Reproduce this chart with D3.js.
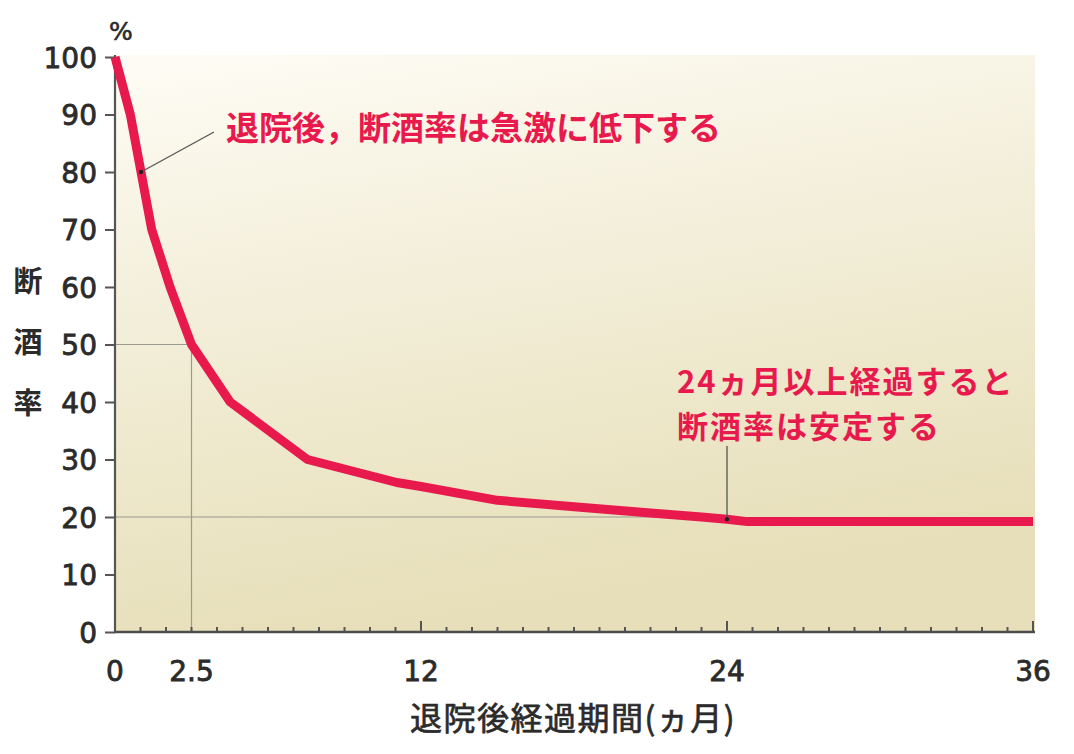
<!DOCTYPE html>
<html>
<head>
<meta charset="utf-8">
<script src="https://cdn.jsdelivr.net/npm/d3@7"></script>
<style>
body { margin: 0; background: #fff; }
</style>
</head>
<body>
<script>
// abstinence rate after discharge
const months = [0, 0.5, 1.2, 1.8, 2.5, 4.1, 7.3, 11, 12, 15, 18, 21, 23, 24, 24.8, 36];
const rates = [100, 90, 70, 60, 50, 40, 30, 26, 25.3, 22.9, 21.8, 20.7, 20, 19.6, 19.2, 19.2];

const xTicks = [0, 2.5, 12, 24, 36];
const xMajor = [12, 24, 36];
const yTicks = [0, 10, 20, 30, 40, 50, 60, 70, 80, 90, 100];

const guideMonths = [2.5, 24];
const guideRates = [50, 20];

const noteMonths = [0.85, 24];
const noteRates = [80, 19.6];
const noteLines = [
    ['退院後，断酒率は急激に低下する'],
    ['24ヵ月以上経過すると', '断酒率は安定する']
];

const yTitle = ['断', '酒', '率'];
const xTitle = '退院後経過期間(ヵ月)';

const width = 1074, height = 754;
const m = {left: 115, right: 1035, top: 55, bottom: 632};
const red = '#e8194c';
const ink = '#2b2b2b';
const jp = '"Noto Sans CJK JP", "Noto Sans", sans-serif';
const num = '"DejaVu Sans", sans-serif';

const svg = d3.select('body').append('svg')
    .attr('width', width)
    .attr('height', height);

// month grid is even, but the original puts the 2.5 mark on the 3rd minor tick
const grid = d3.scaleLinear().domain([0, 36]).range([m.left, 1033]);
const x = d3.scaleLinear()
    .domain(xTicks)
    .range([grid(0), grid(3), grid(12), grid(24), grid(36)]);
const y = d3.scaleLinear().domain([0, 100]).range([m.bottom, 57]);

const defs = svg.append('defs');
const grad = defs.append('linearGradient')
    .attr('id', 'bg')
    .attr('x1', 0).attr('y1', 0)
    .attr('x2', 0.25).attr('y2', 1);
grad.append('stop').attr('offset', 0).attr('stop-color', '#fefcf5');
grad.append('stop').attr('offset', 0.45).attr('stop-color', '#f3eed9');
grad.append('stop').attr('offset', 1).attr('stop-color', '#e7dfb9');

svg.append('rect')
    .attr('x', m.left)
    .attr('y', m.top)
    .attr('width', m.right - m.left)
    .attr('height', m.bottom - m.top)
    .attr('fill', 'url(#bg)');

// guide lines
svg.append('path')
    .attr('d', `M${x(0)},${y(guideRates[0])}H${x(guideMonths[0])}V${y(0)}`)
    .attr('fill', 'none')
    .attr('stroke', '#9a9a92')
    .attr('stroke-width', 1.2);
svg.append('path')
    .attr('d', `M${x(0)},${y(guideRates[1])}H${x(guideMonths[1])}`)
    .attr('fill', 'none')
    .attr('stroke', '#9a9a92')
    .attr('stroke-width', 1.2);

// y axis
const yAxis = svg.append('g')
    .attr('transform', `translate(${m.left},0)`)
    .call(d3.axisLeft(y).tickValues(yTicks).tickSize(10).tickPadding(8));
yAxis.select('.domain').remove();
yAxis.append('line')
    .attr('x1', 0).attr('x2', 0)
    .attr('y1', m.top).attr('y2', m.bottom)
    .attr('stroke', '#555')
    .attr('stroke-width', 2.2);
yAxis.selectAll('.tick line').attr('stroke', '#555').attr('stroke-width', 2);
yAxis.selectAll('.tick text')
    .attr('fill', ink)
    .attr('stroke', ink)
    .attr('stroke-width', 0.8)
    .style('font-family', num)
    .style('font-size', '28px')
    .attr('dy', '0.36em');

// x axis: minor ticks every month, longer at 12/24/36
const xAxis = svg.append('g')
    .attr('transform', `translate(0,${m.bottom})`);
xAxis.selectAll('.minor')
    .data(d3.range(1, 37))
    .join('line')
    .attr('x1', d => grid(d)).attr('x2', d => grid(d))
    .attr('y1', 0)
    .attr('y2', d => xMajor.includes(d) ? -11 : -5)
    .attr('stroke', '#555')
    .attr('stroke-width', 2);
xAxis.append('line')
    .attr('x1', m.left - 1).attr('x2', m.right)
    .attr('y1', 0).attr('y2', 0)
    .attr('stroke', '#4d4d4d')
    .attr('stroke-width', 2.6);
xAxis.selectAll('.lbl')
    .data(xTicks)
    .join('text')
    .attr('x', d => x(d))
    .attr('y', 49)
    .attr('text-anchor', 'middle')
    .attr('fill', ink)
    .attr('stroke', ink)
    .attr('stroke-width', 0.8)
    .style('font-family', num)
    .style('font-size', '28px')
    .text(d => d);

// the curve
const pts = months.map((mo, i) => [mo, rates[i]]);
svg.append('path')
    .datum(pts)
    .attr('d', d3.line().x(d => x(d[0])).y(d => y(d[1])).curve(d3.curveLinear))
    .attr('fill', 'none')
    .attr('stroke', red)
    .attr('stroke-width', 9)
    .attr('stroke-linejoin', 'round')
    .attr('stroke-linecap', 'butt');

// annotations
const n1 = [x(noteMonths[0]), y(noteRates[0])];
svg.append('line')
    .attr('x1', n1[0]).attr('y1', n1[1])
    .attr('x2', 214).attr('y2', 132)
    .attr('stroke', '#555')
    .attr('stroke-width', 1.3);
const n2 = [x(noteMonths[1]), y(noteRates[1])];
svg.append('line')
    .attr('x1', n2[0]).attr('y1', n2[1])
    .attr('x2', n2[0]).attr('y2', 446)
    .attr('stroke', '#555')
    .attr('stroke-width', 1.3);
svg.selectAll('.dot')
    .data([n1, n2])
    .join('circle')
    .attr('cx', d => d[0])
    .attr('cy', d => d[1])
    .attr('r', 2.2)
    .attr('fill', '#222');

const notePos = [[226, 140, 33, 0], [677, 393, 31, 2]];
noteLines.forEach((lines, i) => {
    const [nx, ny, fs, ls] = notePos[i];
    lines.forEach((s, j) => {
        svg.append('text')
            .attr('x', nx)
            .attr('y', ny + j * 45)
            .attr('fill', red)
            .style('font-family', jp)
            .style('font-weight', 'bold')
            .style('font-size', fs + 'px')
            .style('letter-spacing', ls + 'px')
            .text(s);
    });
});

// titles
svg.append('text')
    .attr('x', 121)
    .attr('y', 40)
    .attr('text-anchor', 'middle')
    .attr('fill', ink)
    .attr('stroke', ink)
    .attr('stroke-width', 0.6)
    .style('font-family', num)
    .style('font-size', '25px')
    .text('%');

svg.selectAll('.ytitle')
    .data(yTitle)
    .join('text')
    .attr('x', 28)
    .attr('y', (d, i) => 292 + i * 61)
    .attr('text-anchor', 'middle')
    .attr('fill', ink)
    .style('font-family', jp)
    .style('font-weight', 'bold')
    .style('font-size', '29px')
    .text(d => d);

svg.append('text')
    .attr('x', 573)
    .attr('y', 730)
    .attr('text-anchor', 'middle')
    .attr('fill', ink)
    .attr('stroke', ink)
    .attr('stroke-width', 0.7)
    .style('font-family', jp)
    .style('font-size', '32px')
    .style('letter-spacing', '1.5px')
    .text(xTitle);
</script>
</body>
</html>
